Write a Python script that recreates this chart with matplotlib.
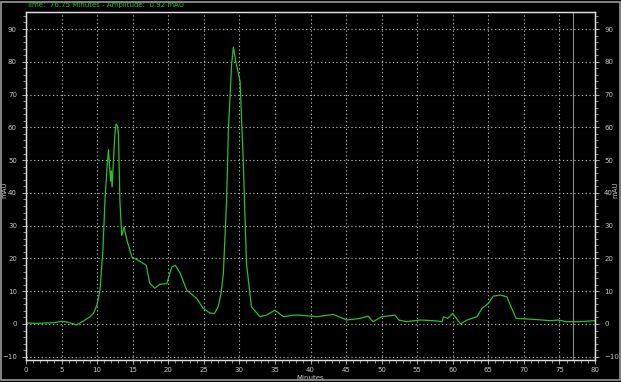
import matplotlib
matplotlib.use("Agg")
import matplotlib.pyplot as plt
from matplotlib.ticker import MultipleLocator
from matplotlib.patches import Rectangle

# trace (minutes, mAU)
minutes = [0.0, 1.5, 3.0, 4.0, 5.0, 5.8, 6.5, 7.1, 8.0, 9.0, 9.5, 10.0, 10.4,
           10.8, 11.1, 11.4, 11.6, 11.75, 11.9, 12.0, 12.1, 12.3, 12.5, 12.66,
           12.85, 13.0, 13.2, 13.46, 13.8, 14.2, 14.9, 15.8, 16.9, 17.4, 18.1,
           18.8, 19.8, 20.5, 21.0, 21.7, 22.6, 24.0, 24.9, 25.9, 26.5, 27.0,
           27.4, 27.75, 28.2, 28.45, 28.7, 28.9, 29.16, 29.5, 30.1, 30.56, 31.0,
           31.7, 32.9, 33.8, 35.0, 36.2, 37.6, 38.5, 40.9, 43.2, 45.1, 47.0,
           48.1, 48.8, 50.0, 51.9, 52.4, 53.5, 55.4, 57.3, 58.5, 58.7, 59.3,
           60.0, 60.5, 61.1, 62.0, 63.4, 64.1, 65.0, 65.7, 66.7, 67.6, 68.3,
           68.9, 71.4, 73.7, 74.8, 76.0, 77.9, 80.0]
mau = [0.3, 0.2, 0.3, 0.4, 0.8, 0.6, 0.1, -0.3, 0.8, 2.2, 3.3, 6.0, 10.3,
       22.0, 37.6, 48.0, 53.2, 48.0, 43.6, 46.7, 41.8, 50.0, 58.0, 61.0,
       60.5, 57.8, 37.6, 27.0, 29.5, 25.5, 20.4, 19.4, 17.9, 12.4, 10.9,
       12.1, 12.3, 17.4, 17.9, 15.4, 10.3, 7.8, 4.8, 3.3, 3.2, 5.2,
       9.0, 15.4, 37.6, 58.8, 70.0, 79.0, 84.5, 80.0, 74.0, 48.7, 18.4,
       5.2, 2.2, 2.7, 4.2, 2.2, 2.7, 2.7, 2.2, 2.9, 1.2, 1.7,
       2.4, 0.7, 2.2, 2.7, 1.2, 0.7, 1.2, 1.0, 0.7, 2.2, 1.7,
       3.2, 1.7, 0.0, 1.2, 2.2, 4.7, 6.3, 8.5, 8.8, 8.3, 4.7,
       1.7, 1.4, 1.0, 1.2, 0.7, 0.7, 1.0]

cursor_min = 76.9
fg = "#c8c8c8"
green = "#2cbf2c"

fig = plt.figure(figsize=(6.21, 3.82), dpi=100, facecolor="black")
ax = fig.add_axes([26 / 621, 1 - 360 / 382, 569 / 621, 348 / 382])
ax.set_facecolor("black")

ax.plot(minutes, mau, color=green, lw=0.9)
ax.axvline(cursor_min, color="#8a8a8a", lw=0.8)

ax.set_xlim(0, 80)
ax.set_ylim(-11, 95.2)
ax.xaxis.set_major_locator(MultipleLocator(5))
ax.xaxis.set_minor_locator(MultipleLocator(1))
ax.yaxis.set_major_locator(MultipleLocator(10))
ax.yaxis.set_minor_locator(MultipleLocator(2))
ax.grid(True, which="major", color="#b0b0b0", ls=(0, (1.2, 2.2)), lw=0.8)

for sp in ax.spines.values():
    sp.set_color("#e0e0e0")
    sp.set_linewidth(1.0)
ax.tick_params(colors=fg, labelsize=5, length=3, width=0.6)
ax.tick_params(axis="x", pad=2)
ax.tick_params(which="minor", colors=fg, length=2, width=0.5)
ax.set_xlabel("Minutes", color=fg, fontsize=5)
ax.xaxis.set_label_coords(0.5, -0.043)
ax.set_ylabel("mAU", color=fg, fontsize=5)
ax.yaxis.set_label_coords(-0.032, 0.49)

ax2 = ax.twinx()
ax2.set_ylim(ax.get_ylim())
ax2.yaxis.set_major_locator(MultipleLocator(10))
ax2.yaxis.set_minor_locator(MultipleLocator(2))
ax2.tick_params(colors=fg, labelsize=5, length=3, width=0.6)
ax2.tick_params(which="minor", colors=fg, length=2, width=0.5)
ax2.set_ylabel("mAU", color=fg, fontsize=5)
ax2.yaxis.set_label_coords(1.03, 0.49)
for sp in ax2.spines.values():
    sp.set_color("#e0e0e0")

fig.text(26 / 621, 1 - 5 / 382, "Time:  76.75 Minutes - Amplitude:  0.92 mAU",
         color=green, fontsize=5, va="center")

fig.patches.append(Rectangle((0.002, 0.004), 0.996, 0.992, transform=fig.transFigure,
                             fill=False, edgecolor="#9a9a9a", lw=1.2))

fig.savefig("out.png", dpi=100, facecolor="black")
